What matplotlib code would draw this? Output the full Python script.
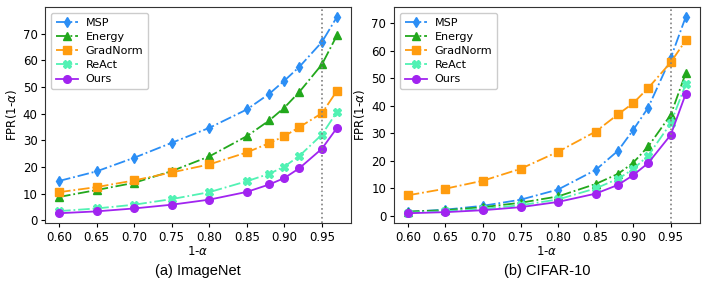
import matplotlib
matplotlib.use("Agg")
import matplotlib.pyplot as plt
import numpy as np

alphas = [0.60, 0.65, 0.70, 0.75, 0.80, 0.85, 0.88, 0.90, 0.92, 0.95, 0.97]
methods = ["MSP", "Energy", "GradNorm", "ReAct", "Ours"]

imagenet_msp = [14.8, 18.4, 23.5, 29.1, 34.7, 41.6, 47.5, 52.4, 57.6, 66.9, 76.3]
imagenet_energy = [8.8, 11.4, 14.1, 18.5, 24.0, 31.6, 37.5, 42.3, 48.2, 58.5, 69.4]
imagenet_gradnorm = [10.6, 12.5, 15.0, 18.0, 21.0, 25.5, 29.0, 31.6, 35.0, 40.2, 48.6]
imagenet_react = [3.5, 4.5, 5.9, 8.0, 10.6, 14.7, 17.5, 20.2, 24.2, 32.2, 40.7]
imagenet_ours = [2.7, 3.4, 4.5, 5.9, 7.8, 10.7, 13.5, 15.9, 19.6, 26.9, 34.7]

cifar_msp = [1.5, 2.3, 3.7, 5.9, 9.6, 16.7, 23.7, 31.2, 39.3, 57.3, 72.2]
cifar_energy = [1.6, 2.1, 3.2, 4.8, 7.1, 11.6, 15.3, 19.3, 25.2, 36.7, 51.8]
cifar_gradnorm = [7.5, 9.9, 12.8, 17.1, 23.3, 30.6, 36.9, 40.9, 46.4, 55.7, 63.7]
cifar_react = [1.2, 1.7, 2.6, 3.9, 6.0, 10.0, 13.5, 17.0, 21.9, 33.6, 47.8]
cifar_ours = [1.0, 1.4, 2.1, 3.2, 5.1, 8.1, 11.3, 14.8, 19.2, 29.4, 44.3]

xticks = [0.60, 0.65, 0.70, 0.75, 0.80, 0.85, 0.90, 0.95]
yticks = [0, 10, 20, 30, 40, 50, 60, 70]
captions = ["(a) ImageNet", "(b) CIFAR-10"]
threshold = 0.95

colors = ["#2b8ef5", "#22a81c", "#ff9c0f", "#52f2b4", "#a124f0"]
markers = ["d", "^", "s", "X", "o"]
styles = ["-.", "-.", "-.", "-.", "-"]

datasets = [
    [imagenet_msp, imagenet_energy, imagenet_gradnorm, imagenet_react, imagenet_ours],
    [cifar_msp, cifar_energy, cifar_gradnorm, cifar_react, cifar_ours],
]

plt.rcParams["font.family"] = ["DejaVu Sans"]
plt.rcParams["font.size"] = 8

fig = plt.figure(figsize=(7.06, 2.82), dpi=100)
lefts = [0.064, 0.558]
width = 0.433
bottom = 0.209
height = 0.766

for i, data in enumerate(datasets):
    ax = fig.add_axes([lefts[i], bottom, width, height])
    for name, vals, c, m, ls in zip(methods, data, colors, markers, styles):
        ax.plot(alphas, vals, linestyle=ls, color=c, marker=m, markersize=5.5,
                linewidth=1.3, label=name)
    ax.axvline(threshold, color="gray", linestyle=":", linewidth=1.2)
    ax.set_xticks(xticks)
    ax.set_xticklabels([f"{t:.2f}" for t in xticks])
    ax.set_yticks(yticks)
    ax.tick_params(axis="both", labelsize=8.5, pad=2.5, length=3)
    ax.set_xlabel(r"1-$\alpha$", fontsize=8.5, labelpad=1)
    ax.set_ylabel(r"FPR(1-$\alpha$)", fontsize=8.5, labelpad=3)
    for s in ax.spines.values():
        s.set_color("#333333")
    ax.legend(loc="upper left", fontsize=8, handlelength=2.0, borderpad=0.45,
              labelspacing=0.38, handletextpad=0.7, framealpha=1,
              edgecolor="#cccccc", fancybox=True)
    ax.text(0.5, -0.222, captions[i], transform=ax.transAxes, ha="center",
            va="center", fontsize=10.5, family=["Liberation Sans", "DejaVu Sans"])

fig.savefig("out.png", dpi=100)
